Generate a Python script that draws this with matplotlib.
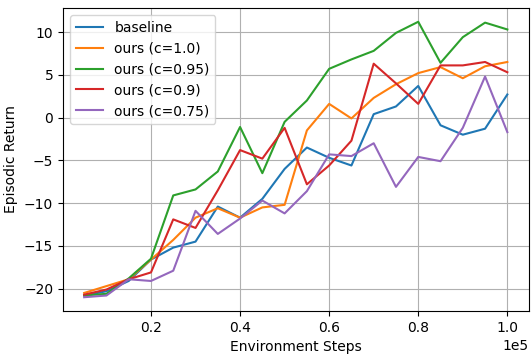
import matplotlib
matplotlib.use("Agg")
import matplotlib.pyplot as plt
import numpy as np

steps = [5000, 10000, 15000, 20000, 25000, 30000, 35000, 40000, 45000, 50000,
         55000, 60000, 65000, 70000, 75000, 80000, 85000, 90000, 95000, 100000]

baseline = [-20.8, -20.3, -19.1, -16.6, -15.2, -14.5, -10.4, -11.7, -9.5, -6.0,
            -3.5, -4.7, -5.6, 0.4, 1.3, 3.7, -0.9, -2.0, -1.3, 2.7]
ours_c100 = [-20.5, -19.7, -18.9, -16.6, -14.3, -11.7, -10.6, -11.7, -10.5, -10.2,
             -1.5, 1.6, -0.1, 2.3, 3.9, 5.2, 5.9, 4.6, 6.0, 6.5]
ours_c095 = [-20.8, -20.6, -18.8, -16.5, -9.1, -8.4, -6.3, -1.1, -6.5, -0.5,
             2.0, 5.7, 6.8, 7.8, 9.9, 11.2, 6.4, 9.4, 11.1, 10.3]
ours_c090 = [-20.7, -20.1, -18.9, -18.1, -11.9, -12.9, -8.5, -3.8, -4.8, -1.2,
             -7.8, -5.6, -2.7, 6.3, 4.0, 1.6, 6.1, 6.1, 6.5, 5.3]
ours_c075 = [-21.0, -20.8, -18.9, -19.1, -17.9, -10.9, -13.6, -11.8, -9.7, -11.2,
             -8.6, -4.3, -4.5, -3.0, -8.1, -4.6, -5.1, -1.2, 4.8, -1.7]

series = [
    ("baseline", baseline),
    ("ours (c=1.0)", ours_c100),
    ("ours (c=0.95)", ours_c095),
    ("ours (c=0.9)", ours_c090),
    ("ours (c=0.75)", ours_c075),
]

fig = plt.figure(figsize=(5.31, 3.58), dpi=100)
ax = fig.add_axes([63 / 531, 1 - 311 / 358, (528.5 - 63) / 531, (311 - 8) / 358])
for label, vals in series:
    ax.plot(steps, vals, label=label, linewidth=1.5)

ax.set_xlabel("Environment Steps")
ax.set_ylabel("Episodic Return")
ax.set_yticks([-20, -15, -10, -5, 0, 5, 10])
ax.ticklabel_format(axis="x", style="sci", scilimits=(0, 0))
ax.grid(True, color="#b0b0b0", linewidth=0.8)
ax.legend(loc="upper left")
fig.savefig("out.png", dpi=100)
